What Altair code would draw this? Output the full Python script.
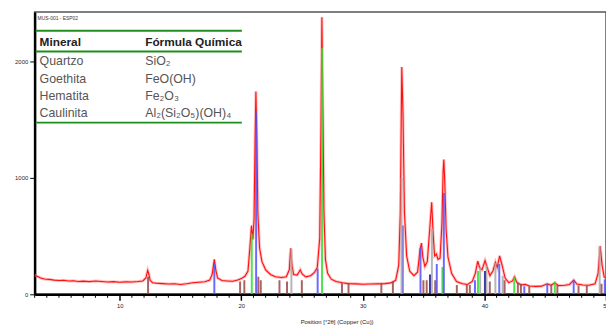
import altair as alt
import pandas as pd

# ---- scan (2theta, counts) ----
scan_x = [3.0, 3.2, 3.5, 3.8, 4.2, 4.6, 5.0, 5.4, 5.8, 6.2, 6.6, 7.0, 7.5, 8.0, 8.5, 9.0, 9.5,
          10.0, 10.5, 11.0, 11.5, 11.9, 12.15, 12.3, 12.4, 12.5, 12.7, 13.0, 13.5, 14.0, 14.5,
          15.0, 15.5, 16.0, 16.5, 17.0, 17.4, 17.6, 17.78, 17.9, 18.05, 18.4, 18.8, 19.3, 19.7,
          20.0, 20.3, 20.55, 20.72, 20.84, 20.95, 21.05, 21.13, 21.2, 21.28, 21.36, 21.5, 21.7,
          22.0, 22.4, 22.8, 23.3, 23.7, 23.95, 24.06, 24.16, 24.3, 24.6, 24.85, 25.0, 25.3, 25.7,
          26.0, 26.25, 26.45, 26.55, 26.63, 26.71, 26.8, 26.92, 27.1, 27.4, 27.8, 28.3, 28.8,
          29.4, 30.0, 30.6, 31.2, 31.8, 32.3, 32.7, 32.95, 33.08, 33.2, 33.3, 33.42, 33.6, 33.85,
          34.2, 34.5, 34.7, 34.82, 34.93, 35.1, 35.3, 35.5, 35.66, 35.78, 35.9, 36.05, 36.18,
          36.35, 36.5, 36.6, 36.66, 36.74, 36.85, 37.0, 37.3, 37.7, 38.2, 38.6, 39.0, 39.25,
          39.45, 39.6, 39.8, 40.05, 40.2, 40.45, 40.7, 40.9, 41.05, 41.25, 41.45, 41.7, 42.0,
          42.3, 42.48, 42.65, 43.0, 43.35, 43.7, 44.2, 44.7, 45.17, 45.45, 45.8, 46.1, 46.6,
          47.0, 47.35, 47.6, 48.1, 48.6, 49.1, 49.35, 49.52, 49.68, 49.85, 50.0]
scan_y = [165, 155, 140, 132, 128, 122, 118, 121, 114, 116, 110, 113, 109, 114, 110, 106, 109,
          104, 107, 106, 110, 115, 140, 205, 170, 120, 100, 96, 92, 88, 90,
          85, 90, 100, 104, 108, 122, 170, 300, 210, 140, 118, 115, 112, 122,
          135, 155, 200, 420, 590, 470, 650, 1300, 1740, 1350, 700, 400, 280,
          210, 170, 150, 145, 150, 210, 395, 260, 170, 165, 210, 175, 150, 160,
          185, 230, 480, 1400, 2375, 1600, 700, 300, 180, 130, 110, 100, 92,
          90, 86, 88, 90, 92, 98, 120, 250, 700, 1950, 1550, 700, 330, 200,
          160, 190, 380, 440, 320, 240, 280, 560, 790, 520, 330, 345, 300,
          310, 600, 1050, 1156, 950, 550, 320, 180, 110, 90, 85, 110, 180,
          285, 230, 210, 290, 240, 160, 200, 275, 230, 330, 250, 140, 100,
          115, 150, 105, 80, 85, 72, 68, 70, 90, 78, 98, 75, 78,
          85, 122, 88, 80, 78, 90, 180, 415, 250, 150, 140]

# ---- reference sticks per phase ----
quartzo_pos = [20.86, 26.64, 36.54, 39.47, 42.45, 45.79]
quartzo_h = [520, 2110, 235, 200, 150, 110]
goethita_pos = [17.78, 21.22, 26.28, 33.28, 34.74, 36.08, 36.66, 39.22, 41.22, 43.28, 45.17, 47.34, 49.9]
goethita_h = [262, 1560, 220, 590, 400, 260, 868, 120, 260, 70, 90, 120, 130]
hematita_pos = [24.12, 33.18, 35.68, 39.65, 40.17, 40.9, 41.5, 49.48]
hematita_h = [390, 1000, 560, 230, 250, 270, 160, 410]
caulinita_pos = [12.33, 19.9, 20.25, 21.4, 21.6, 23.14, 23.76, 24.98, 28.28, 28.82, 31.52, 32.47,
                 34.98, 35.25, 35.95, 37.73, 38.55, 38.8, 40.44, 41.66, 42.75, 43.0, 43.69, 45.5,
                 46.0, 47.74, 48.42, 49.63]
caulinita_h = [150, 110, 120, 150, 120, 120, 110, 120, 95, 95, 95, 110, 120, 120, 120, 80, 80, 80,
               110, 120, 100, 90, 70, 80, 80, 75, 75, 90]
outros_pos = [35.52, 40.04]
outros_h = [170, 200]

# ---- table ----
sample_label = "MUS-001 - ESP02"
table_header = ["Mineral", "Fórmula Química"]
minerais = ["Quartzo", "Goethita", "Hematita", "Caulinita"]
formulas = ["SiO₂", "FeO(OH)", "Fe₂O₃", "Al₂(Si₂O₅)(OH)₄"]

x_ticks = [10, 20, 30, 40, 50]
x_minor = list(range(3, 51))
y_ticks = [0, 1000, 2000]
x_title = "Position [°2θ] (Copper (Cu))"

scan = pd.DataFrame({"x": scan_x, "y": scan_y})
rows = []
for name, pos, hs in [("Quartzo", quartzo_pos, quartzo_h), ("Goethita", goethita_pos, goethita_h),
                      ("Hematita", hematita_pos, hematita_h), ("Caulinita", caulinita_pos, caulinita_h),
                      ("Outros", outros_pos, outros_h)]:
    for p, h in zip(pos, hs):
        rows.append({"x": p, "y0": 0, "h": h, "fase": name})
sticks = pd.DataFrame(rows)
minor = pd.DataFrame({"x": [v for v in x_minor if v % 10 != 0]})

W, H = 579, 286
xscale = alt.Scale(domain=[3, 50], nice=False, zero=False)
yscale = alt.Scale(domain=[0, 2420], nice=False)

xaxis = alt.Axis(values=x_ticks, labelOverlap=False, labelFlush=False,
                 tickSize=6, tickWidth=1.5,
                 tickColor="#000", domainColor="#000", domainWidth=2.5, labelFontSize=6,
                 labelFont="Liberation Sans", labelPadding=2, grid=False, title=x_title,
                 titleFontSize=6, titleFont="Liberation Sans", titleFontWeight="normal",
                 titlePadding=11, titleX=306, titleColor="#222", labelColor="#222")
yaxis = alt.Axis(values=y_ticks, format="d", tickSize=5, tickColor="#000", domainColor="#000",
                 domainWidth=2.5, labelFontSize=6, labelFont="Liberation Sans", labelPadding=2,
                 grid=False, title=None, labelColor="#222")

halo = alt.Chart(scan).mark_line(color="#ff7070", strokeWidth=3, opacity=0.45, clip=True).encode(
    x=alt.X("x:Q", scale=xscale, axis=xaxis), y=alt.Y("y:Q", scale=yscale, axis=yaxis))
line = alt.Chart(scan).mark_line(color="#ff1010", strokeWidth=1.1, clip=True).encode(
    x=alt.X("x:Q", scale=xscale), y=alt.Y("y:Q", scale=yscale))
stk = alt.Chart(sticks).mark_rule(strokeWidth=2, opacity=0.85, clip=True).encode(
    x=alt.X("x:Q", scale=xscale), y=alt.Y("y0:Q", scale=yscale), y2="h:Q",
    color=alt.Color("fase:N", legend=None,
                    scale=alt.Scale(domain=["Quartzo", "Goethita", "Hematita", "Caulinita", "Outros"],
                                    range=["#33dd33", "#5050ff", "#a8a8a8", "#9a4848", "#1a1a90"])))
minor_ticks = alt.Chart(minor).mark_rule(color="#000", strokeWidth=1).encode(
    x=alt.X("x:Q", scale=xscale), y=alt.value(H), y2=alt.value(H + 3.5))

layers = [halo, line, stk, minor_ticks]
one = pd.DataFrame({"a": [0]})
# table rules (green)
for ly in [19, 40, 112]:
    layers.append(alt.Chart(one).mark_rule(color="#1f8f1f", strokeWidth=2).encode(
        x=alt.value(1), x2=alt.value(210), y=alt.value(ly)))
layers.append(alt.Chart(one).mark_text(text=sample_label, fontSize=5, font="Liberation Sans",
                                       align="left", baseline="middle", color="#333").encode(
    x=alt.value(3), y=alt.value(6)))
for txt, tx in zip(table_header, [5, 112]):
    layers.append(alt.Chart(one).mark_text(text=txt, fontSize=12, font="Liberation Sans",
                                           fontWeight="bold", align="left", baseline="middle",
                                           color="#222").encode(x=alt.value(tx), y=alt.value(30)))
for i, (m, f) in enumerate(zip(minerais, formulas)):
    yy = 50 + i * 17.4
    layers.append(alt.Chart(one).mark_text(text=m, fontSize=12.5, font="Liberation Sans", align="left",
                                           baseline="middle", color="#555").encode(
        x=alt.value(5), y=alt.value(yy)))
    layers.append(alt.Chart(one).mark_text(text=f, fontSize=12.5, font="Liberation Sans", align="left",
                                           baseline="middle", color="#555").encode(
        x=alt.value(112), y=alt.value(yy)))

chart = alt.layer(*layers).properties(
    width=W, height=H,
    autosize=alt.AutoSizeParams(type="none"),
    padding={"left": 27, "top": 2, "right": 0, "bottom": 35},
    background="white",
).configure_view(stroke="#555", strokeWidth=1.5)

chart.save("out.html", embed_options={"renderer": "svg", "actions": False})
